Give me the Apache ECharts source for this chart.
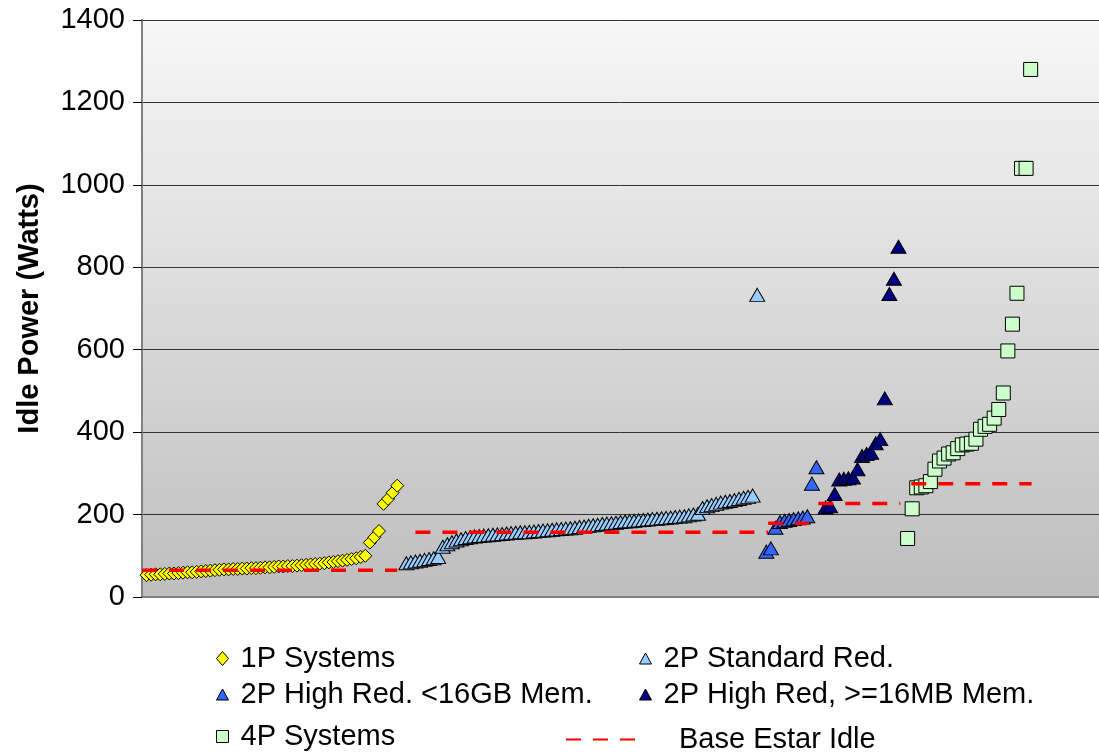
<!DOCTYPE html>
<html>
<head>
<meta charset="utf-8">
<title>Idle Power</title>
<script src="https://cdn.jsdelivr.net/npm/echarts@6/dist/echarts.min.js"></script>
<style>
  html, body { margin: 0; padding: 0; background: #fff; }
  #main { width: 1099px; height: 753px; }
</style>
</head>
<body>
<div id="main"></div>
<script>
// x = rank of the system along the chart, y = idle power (watts)
const onePStart = 1
const onePValues = [
  53, 54, 55, 55, 56, 57, 57, 58, 59, 60,
  60, 61, 62, 63, 64, 65, 66, 67, 67, 68,
  68, 69, 69, 70, 70, 71, 72, 72, 73, 74,
  74, 75, 75, 76, 77, 78, 79, 80, 81, 82,
  84, 85, 87, 88, 90, 92, 94, 97, 100,
  132, 145, 160, 226, 238, 253, 270
]

const twoPStdStart = 58
const twoPStdValues = [
  82, 84, 86, 88, 90, 92, 94, 97,
  122, 128, 133, 137, 140,
  143, 145, 147, 148, 149, 150, 151, 152, 153,
  154, 155, 156, 157, 157, 158, 159, 160, 161, 162, 163, 164, 165, 166, 167,
  168, 170, 171, 173, 174, 175, 177, 178, 179, 180, 182, 183, 184, 185,
  186, 187, 188, 189, 190, 191, 192, 193, 194, 195, 196, 198, 200, 202,
  216, 220, 223, 226, 229, 231, 233, 235, 238, 241, 243, 246,
  733
]

const twoPHighLowStart = 137
const twoPHighLowValues = [110, 118, 168, 182, 185, 187, 189, 191, 193, 196, 275, 315]

const twoPHighBigStart = 150
const twoPHighBigValues = [217, 220, 250, 285, 287, 288, 290, 310, 342, 347, 350, 373, 383, 482, 735, 772, 850]

const fourPStart = 168
const fourPValues = [
  142, 214, 265, 267, 270, 280, 310, 330, 337, 347, 350, 360, 369, 371,
  373, 383, 407, 414, 419, 434, 455, 495, 597, 662, 737, 1040, 1040, 1280
]

// Base Estar Idle levels, one dashed segment per group
const estarFrom = [0, 60, 137.4, 148.4, 168.8]
const estarTo = [56, 137.4, 146.4, 166.4, 195.2]
const estarLevel = [65, 157, 179, 227, 275]

const font = "'Liberation Sans', Arial, sans-serif"

function toPoints(start, values) {
  return values.map((v, i) => [start + i, v])
}

function markerSeries(name, symbol, size, color, start, values) {
  return {
    name: name,
    type: 'scatter',
    symbol: symbol,
    symbolSize: size,
    itemStyle: { color: color, borderColor: '#000', borderWidth: 1, opacity: 1 },
    data: toPoints(start, values),
    z: 2
  }
}

const series = [
  markerSeries('1P Systems', 'diamond', [13, 13], '#FFFF00', onePStart, onePValues),
  markerSeries('2P Standard Red.', 'triangle', [15, 13], '#99CCFF', twoPStdStart, twoPStdValues),
  markerSeries('2P High Red. <16GB Mem.', 'triangle', [15, 13], '#3366FF', twoPHighLowStart, twoPHighLowValues),
  markerSeries('2P High Red, >=16MB Mem.', 'triangle', [15, 13], '#000080', twoPHighBigStart, twoPHighBigValues),
  markerSeries('4P Systems', 'rect', [14, 14], '#CCFFCC', fourPStart, fourPValues)
]

estarLevel.forEach((v, i) => {
  series.push({
    name: 'Base Estar Idle',
    type: 'line',
    symbol: 'none',
    silent: true,
    itemStyle: { color: '#FF0000' },
    lineStyle: { color: '#FF0000', width: 3.5, type: [15, 12] },
    data: [[estarFrom[i], v], [estarTo[i], v]],
    z: 4
  })
})

function legendAt(left, top, item, w, h, gap) {
  return {
    left: left,
    top: top,
    padding: 0,
    selectedMode: false,
    itemWidth: w,
    itemHeight: h,
    data: [item],
    textStyle: { fontSize: 29, color: '#000', fontFamily: font, padding: [0, 0, 0, gap] }
  }
}

const markerBorder = { borderColor: '#000', borderWidth: 1 }

const option = {
  animation: false,
  backgroundColor: '#fff',
  grid: {
    left: 142, right: 0, top: 20, bottom: 156,
    show: true,
    borderWidth: 0,
    backgroundColor: {
      type: 'linear', x: 0, y: 0, x2: 0, y2: 1,
      colorStops: [{ offset: 0, color: '#F7F7F7' }, { offset: 1, color: '#BEBEBE' }]
    }
  },
  xAxis: {
    type: 'value',
    min: 0,
    max: 210,
    axisLine: { show: true, lineStyle: { color: '#808080', width: 2 } },
    axisTick: { show: false },
    axisLabel: { show: false },
    splitLine: { show: false }
  },
  yAxis: {
    type: 'value',
    min: 0,
    max: 1400,
    interval: 200,
    name: 'Idle Power (Watts)',
    nameLocation: 'middle',
    nameRotate: 90,
    nameGap: 98,
    nameTextStyle: { fontSize: 29, fontWeight: 'bold', color: '#000', fontFamily: font },
    axisLine: { show: true, lineStyle: { color: '#808080', width: 2 } },
    axisTick: { show: true, inside: false, length: 9, lineStyle: { color: '#000' } },
    axisLabel: { fontSize: 29, color: '#000', fontFamily: font, margin: 17, formatter: v => String(v) },
    splitLine: { show: true, lineStyle: { color: '#333', width: 1 } }
  },
  legend: [
    legendAt(216, 644, { name: '1P Systems', icon: 'diamond', itemStyle: markerBorder }, 12, 14, 7),
    legendAt(639, 644, { name: '2P Standard Red.', icon: 'triangle', itemStyle: markerBorder }, 12, 11, 7),
    legendAt(216, 680, { name: '2P High Red. <16GB Mem.', icon: 'triangle', itemStyle: markerBorder }, 12, 11, 7),
    legendAt(639, 680, { name: '2P High Red, >=16MB Mem.', icon: 'triangle', itemStyle: markerBorder }, 12, 11, 7),
    legendAt(216, 722, { name: '4P Systems', icon: 'rect', itemStyle: markerBorder }, 12, 12, 7),
    legendAt(565, 725, { name: 'Base Estar Idle', itemStyle: { opacity: 0 } }, 80, 14, 28)
  ],
  series: series
}

const chart = echarts.init(document.getElementById('main'))
chart.setOption(option)
</script>
</body>
</html>
